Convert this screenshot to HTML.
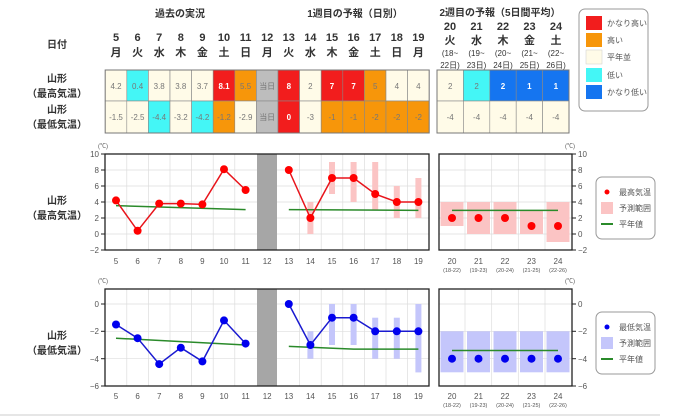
<!DOCTYPE html>
<html><head><meta charset="utf-8"><style>
body{margin:0;background:#fff}
svg{display:block;font-family:"Liberation Sans","Noto Sans CJK JP",sans-serif}
.h{font-size:10px;font-weight:bold;fill:#333}
.d{font-size:11px;font-weight:bold;fill:#333}
.s{font-size:8px;fill:#333}
.c{font-size:8px;fill:#777}
.w{font-size:8px;fill:#fff;font-weight:bold}
.t{font-size:8px;fill:#555}
.l{font-size:8px;fill:#555}
</style></head><body>
<svg width="680" height="417" viewBox="0 0 680 417" xmlns="http://www.w3.org/2000/svg">
<!-- headers -->
<text class="h" x="180" y="17" text-anchor="middle">過去の実況</text>
<text class="h" x="355" y="17" text-anchor="middle">1週目の予報（日別）</text>
<text class="h" x="500" y="16" text-anchor="middle">2週目の予報（5日間平均）</text>
<text class="h" x="57" y="48" text-anchor="middle">日付</text>
<text class="h" x="57" y="82" text-anchor="middle">山形</text>
<text class="h" x="57" y="97" text-anchor="middle">（最高気温）</text>
<text class="h" x="57" y="113" text-anchor="middle">山形</text>
<text class="h" x="57" y="128" text-anchor="middle">（最低気温）</text>
<g class="d" text-anchor="middle">
<text x="116" y="41">5</text><text x="137.6" y="41">6</text><text x="159.2" y="41">7</text><text x="180.8" y="41">8</text><text x="202.4" y="41">9</text><text x="224" y="41">10</text><text x="245.6" y="41">11</text><text x="267.2" y="41">12</text><text x="288.8" y="41">13</text><text x="310.4" y="41">14</text><text x="332" y="41">15</text><text x="353.6" y="41">16</text><text x="375.2" y="41">17</text><text x="396.8" y="41">18</text><text x="418.4" y="41">19</text>
<text x="116" y="56">月</text><text x="137.6" y="56">火</text><text x="159.2" y="56">水</text><text x="180.8" y="56">木</text><text x="202.4" y="56">金</text><text x="224" y="56">土</text><text x="245.6" y="56">日</text><text x="267.2" y="56">月</text><text x="288.8" y="56">火</text><text x="310.4" y="56">水</text><text x="332" y="56">木</text><text x="353.6" y="56">金</text><text x="375.2" y="56">土</text><text x="396.8" y="56">日</text><text x="418.4" y="56">月</text>
<text x="450" y="30">20</text><text x="476.5" y="30">21</text><text x="503" y="30">22</text><text x="529.5" y="30">23</text><text x="556" y="30">24</text>
<text x="450" y="44">火</text><text x="476.5" y="44">水</text><text x="503" y="44">木</text><text x="529.5" y="44">金</text><text x="556" y="44">土</text>
</g>
<g class="s" text-anchor="middle">
<text x="450" y="56">(18~</text><text x="476.5" y="56">(19~</text><text x="503" y="56">(20~</text><text x="529.5" y="56">(21~</text><text x="556" y="56">(22~</text>
<text x="450" y="68">22日)</text><text x="476.5" y="68">23日)</text><text x="503" y="68">24日)</text><text x="529.5" y="68">25日)</text><text x="556" y="68">26日)</text>
</g>
<!-- table week1 -->
<g stroke="#888" stroke-width="0.6">
<rect x="105.2" y="70" width="21.6" height="31" fill="#fffbe8"/><rect x="126.8" y="70" width="21.6" height="31" fill="#44f6f6"/><rect x="148.4" y="70" width="21.6" height="31" fill="#fffbe8"/><rect x="170" y="70" width="21.6" height="31" fill="#fffbe8"/><rect x="191.6" y="70" width="21.6" height="31" fill="#fffbe8"/><rect x="213.2" y="70" width="21.6" height="31" fill="#f21d1d"/><rect x="234.8" y="70" width="21.6" height="31" fill="#f7960a"/><rect x="256.4" y="70" width="21.6" height="31" fill="#bdbdbd"/><rect x="278" y="70" width="21.6" height="31" fill="#f21d1d"/><rect x="299.6" y="70" width="21.6" height="31" fill="#fffbe8"/><rect x="321.2" y="70" width="21.6" height="31" fill="#f21d1d"/><rect x="342.8" y="70" width="21.6" height="31" fill="#f21d1d"/><rect x="364.4" y="70" width="21.6" height="31" fill="#f7960a"/><rect x="386" y="70" width="21.6" height="31" fill="#fffbe8"/><rect x="407.6" y="70" width="21.6" height="31" fill="#fffbe8"/>
<rect x="105.2" y="101" width="21.6" height="32" fill="#fffbe8"/><rect x="126.8" y="101" width="21.6" height="32" fill="#fffbe8"/><rect x="148.4" y="101" width="21.6" height="32" fill="#44f6f6"/><rect x="170" y="101" width="21.6" height="32" fill="#fffbe8"/><rect x="191.6" y="101" width="21.6" height="32" fill="#44f6f6"/><rect x="213.2" y="101" width="21.6" height="32" fill="#f7960a"/><rect x="234.8" y="101" width="21.6" height="32" fill="#fffbe8"/><rect x="256.4" y="101" width="21.6" height="32" fill="#bdbdbd"/><rect x="278" y="101" width="21.6" height="32" fill="#f21d1d"/><rect x="299.6" y="101" width="21.6" height="32" fill="#fffbe8"/><rect x="321.2" y="101" width="21.6" height="32" fill="#f7960a"/><rect x="342.8" y="101" width="21.6" height="32" fill="#f7960a"/><rect x="364.4" y="101" width="21.6" height="32" fill="#f7960a"/><rect x="386" y="101" width="21.6" height="32" fill="#f7960a"/><rect x="407.6" y="101" width="21.6" height="32" fill="#f7960a"/>
<rect x="437" y="70" width="26.4" height="31" fill="#fffbe8"/><rect x="463.4" y="70" width="26.4" height="31" fill="#44f6f6"/><rect x="489.8" y="70" width="26.4" height="31" fill="#1575f0"/><rect x="516.2" y="70" width="26.4" height="31" fill="#1575f0"/><rect x="542.6" y="70" width="26.4" height="31" fill="#1575f0"/>
<rect x="437" y="101" width="26.4" height="32" fill="#fffbe8"/><rect x="463.4" y="101" width="26.4" height="32" fill="#fffbe8"/><rect x="489.8" y="101" width="26.4" height="32" fill="#fffbe8"/><rect x="516.2" y="101" width="26.4" height="32" fill="#fffbe8"/><rect x="542.6" y="101" width="26.4" height="32" fill="#fffbe8"/>
</g>
<rect x="105.2" y="70" width="324" height="63" fill="none" stroke="#777" stroke-width="1"/>
<rect x="437" y="70" width="132" height="63" fill="none" stroke="#777" stroke-width="1"/>
<g text-anchor="middle">
<text class="c" x="116" y="89">4.2</text><text class="c" x="137.6" y="89">0.4</text><text class="c" x="159.2" y="89">3.8</text><text class="c" x="180.8" y="89">3.8</text><text class="c" x="202.4" y="89">3.7</text><text class="w" x="224" y="89">8.1</text><text class="c" x="245.6" y="89">5.5</text><text class="c" x="267.2" y="89">当日</text><text class="w" x="288.8" y="89">8</text><text class="c" x="310.4" y="89">2</text><text class="w" x="332" y="89">7</text><text class="w" x="353.6" y="89">7</text><text class="c" x="375.2" y="89">5</text><text class="c" x="396.8" y="89">4</text><text class="c" x="418.4" y="89">4</text>
<text class="c" x="116" y="120">-1.5</text><text class="c" x="137.6" y="120">-2.5</text><text class="c" x="159.2" y="120">-4.4</text><text class="c" x="180.8" y="120">-3.2</text><text class="c" x="202.4" y="120">-4.2</text><text class="c" x="224" y="120">-1.2</text><text class="c" x="245.6" y="120">-2.9</text><text class="c" x="267.2" y="120">当日</text><text class="w" x="288.8" y="120">0</text><text class="c" x="310.4" y="120">-3</text><text class="c" x="332" y="120">-1</text><text class="c" x="353.6" y="120">-1</text><text class="c" x="375.2" y="120">-2</text><text class="c" x="396.8" y="120">-2</text><text class="c" x="418.4" y="120">-2</text>
<text class="c" x="450.2" y="89">2</text><text class="c" x="476.6" y="89">2</text><text class="w" x="503" y="89">2</text><text class="w" x="529.4" y="89">1</text><text class="w" x="555.8" y="89">1</text>
<text class="c" x="450.2" y="120">-4</text><text class="c" x="476.6" y="120">-4</text><text class="c" x="503" y="120">-4</text><text class="c" x="529.4" y="120">-4</text><text class="c" x="555.8" y="120">-4</text>
</g>
<!-- top legend -->
<rect x="579" y="9" width="69" height="102" rx="6" fill="#fff" stroke="#999"/>
<rect x="586" y="16" width="16" height="14" fill="#f21d1d"/><text class="l" x="607" y="26">かなり高い</text>
<rect x="586" y="33" width="16" height="14" fill="#f7960a"/><text class="l" x="607" y="43">高い</text>
<rect x="586" y="50" width="16" height="14" fill="#fffbe8" stroke="#ccc" stroke-width="0.5"/><text class="l" x="607" y="60">平年並</text>
<rect x="586" y="68" width="16" height="14" fill="#44f6f6"/><text class="l" x="607" y="78">低い</text>
<rect x="586" y="85" width="16" height="14" fill="#1575f0"/><text class="l" x="607" y="95">かなり低い</text>

<!-- ===== top chart ===== -->
<text class="h" x="57" y="204" text-anchor="middle">山形</text>
<text class="h" x="57" y="219" text-anchor="middle">（最高気温）</text>
<g stroke="#ddd" stroke-width="0.7">
<line x1="105" y1="170" x2="429" y2="170"/><line x1="105" y1="186" x2="429" y2="186"/><line x1="105" y1="202" x2="429" y2="202"/><line x1="105" y1="218" x2="429" y2="218"/><line x1="105" y1="234" x2="429" y2="234"/>
<line x1="439" y1="170" x2="572" y2="170"/><line x1="439" y1="186" x2="572" y2="186"/><line x1="439" y1="202" x2="572" y2="202"/><line x1="439" y1="218" x2="572" y2="218"/><line x1="439" y1="234" x2="572" y2="234"/>
<line x1="126.8" y1="154" x2="126.8" y2="250"/><line x1="148.4" y1="154" x2="148.4" y2="250"/><line x1="170" y1="154" x2="170" y2="250"/><line x1="191.6" y1="154" x2="191.6" y2="250"/><line x1="213.2" y1="154" x2="213.2" y2="250"/><line x1="234.8" y1="154" x2="234.8" y2="250"/><line x1="299.6" y1="154" x2="299.6" y2="250"/><line x1="321.2" y1="154" x2="321.2" y2="250"/><line x1="342.8" y1="154" x2="342.8" y2="250"/><line x1="364.4" y1="154" x2="364.4" y2="250"/><line x1="386" y1="154" x2="386" y2="250"/><line x1="407.6" y1="154" x2="407.6" y2="250"/>
<line x1="465" y1="154" x2="465" y2="250"/><line x1="491.7" y1="154" x2="491.7" y2="250"/><line x1="518.3" y1="154" x2="518.3" y2="250"/><line x1="545" y1="154" x2="545" y2="250"/>
</g>
<rect x="257" y="154" width="20" height="96" fill="#a6a6a6"/>
<g fill="#fbc4c4">
<rect x="307.4" y="202" width="6" height="32"/><rect x="329" y="162" width="6" height="32"/><rect x="350.6" y="162" width="6" height="40"/><rect x="372.2" y="162" width="6" height="48"/><rect x="393.8" y="186" width="6" height="32"/><rect x="415.4" y="178" width="6" height="40"/>
<rect x="440.5" y="202" width="23" height="24"/><rect x="467" y="202" width="23" height="32"/><rect x="493.5" y="202" width="23" height="32"/><rect x="520" y="210" width="23" height="24"/><rect x="546.5" y="202" width="23" height="40"/>
</g>
<g stroke="#2a8a2a" stroke-width="1.5" fill="none">
<line x1="116" y1="205.6" x2="245.6" y2="209.6"/><line x1="288.8" y1="209.6" x2="418.4" y2="210.4"/><line x1="452" y1="210.4" x2="558" y2="210.4"/>
</g>
<g stroke="#e8141b" stroke-width="1.5" fill="none">
<polyline points="116,200.4 137.6,230.8 159.2,203.6 180.8,203.6 202.4,204.4 224,169.2 245.6,190"/>
<polyline points="288.8,170 310.4,218 332,178 353.6,178 375.2,194 396.8,202 418.4,202"/>
</g>
<g fill="#f00">
<circle cx="116" cy="200.4" r="4"/><circle cx="137.6" cy="230.8" r="4"/><circle cx="159.2" cy="203.6" r="4"/><circle cx="180.8" cy="203.6" r="4"/><circle cx="202.4" cy="204.4" r="4"/><circle cx="224" cy="169.2" r="4"/><circle cx="245.6" cy="190" r="4"/>
<circle cx="288.8" cy="170" r="4"/><circle cx="310.4" cy="218" r="4"/><circle cx="332" cy="178" r="4"/><circle cx="353.6" cy="178" r="4"/><circle cx="375.2" cy="194" r="4"/><circle cx="396.8" cy="202" r="4"/><circle cx="418.4" cy="202" r="4"/>
<circle cx="452" cy="218" r="4"/><circle cx="478.5" cy="218" r="4"/><circle cx="505" cy="218" r="4"/><circle cx="531.5" cy="226" r="4"/><circle cx="558" cy="226" r="4"/>
</g>
<g fill="none" stroke="#222" stroke-width="1.3">
<rect x="105" y="154" width="324" height="96"/><rect x="439" y="154" width="133" height="96"/>
</g>
<g stroke="#222" stroke-width="1">
<line x1="101" y1="154" x2="105" y2="154"/><line x1="101" y1="170" x2="105" y2="170"/><line x1="101" y1="186" x2="105" y2="186"/><line x1="101" y1="202" x2="105" y2="202"/><line x1="101" y1="218" x2="105" y2="218"/><line x1="101" y1="234" x2="105" y2="234"/><line x1="101" y1="250" x2="105" y2="250"/>
<line x1="572" y1="154" x2="576" y2="154"/><line x1="572" y1="170" x2="576" y2="170"/><line x1="572" y1="186" x2="576" y2="186"/><line x1="572" y1="202" x2="576" y2="202"/><line x1="572" y1="218" x2="576" y2="218"/><line x1="572" y1="234" x2="576" y2="234"/><line x1="572" y1="250" x2="576" y2="250"/>
</g>
<g class="t" text-anchor="end">
<text x="99" y="157">10</text><text x="99" y="173">8</text><text x="99" y="189">6</text><text x="99" y="205">4</text><text x="99" y="221">2</text><text x="99" y="237">0</text><text x="99" y="253">−2</text>
</g>
<g class="t">
<text x="578" y="157">10</text><text x="578" y="173">8</text><text x="578" y="189">6</text><text x="578" y="205">4</text><text x="578" y="221">2</text><text x="578" y="237">0</text><text x="578" y="253">−2</text>
<text x="98" y="148" font-size="6">(℃)</text><text x="565" y="148" font-size="6">(℃)</text>
</g>
<g class="t" text-anchor="middle">
<text x="116" y="264">5</text><text x="137.6" y="264">6</text><text x="159.2" y="264">7</text><text x="180.8" y="264">8</text><text x="202.4" y="264">9</text><text x="224" y="264">10</text><text x="245.6" y="264">11</text><text x="267.2" y="264">12</text><text x="288.8" y="264">13</text><text x="310.4" y="264">14</text><text x="332" y="264">15</text><text x="353.6" y="264">16</text><text x="375.2" y="264">17</text><text x="396.8" y="264">18</text><text x="418.4" y="264">19</text>
<text x="452" y="264">20</text><text x="478.5" y="264">21</text><text x="505" y="264">22</text><text x="531.5" y="264">23</text><text x="558" y="264">24</text>
<text x="452" y="272" font-size="5.5">(18-22)</text><text x="478.5" y="272" font-size="5.5">(19-23)</text><text x="505" y="272" font-size="5.5">(20-24)</text><text x="531.5" y="272" font-size="5.5">(21-25)</text><text x="558" y="272" font-size="5.5">(22-26)</text>
</g>
<rect x="596" y="177" width="59" height="62" rx="6" fill="#fff" stroke="#999"/>
<circle cx="607" cy="192" r="2.5" fill="#f00"/><text class="l" x="619" y="195" font-size="7">最高気温</text>
<rect x="601" y="202" width="12" height="12" fill="#fbc4c4"/><text class="l" x="619" y="211" font-size="7">予測範囲</text>
<line x1="601" y1="224" x2="613" y2="224" stroke="#2a8a2a" stroke-width="2"/><text class="l" x="619" y="227" font-size="7">平年値</text>

<!-- ===== bottom chart ===== -->
<text class="h" x="57" y="339" text-anchor="middle">山形</text>
<text class="h" x="57" y="354" text-anchor="middle">（最低気温）</text>
<g stroke="#ddd" stroke-width="0.7">
<line x1="105" y1="304" x2="429" y2="304"/><line x1="105" y1="331.3" x2="429" y2="331.3"/><line x1="105" y1="358.7" x2="429" y2="358.7"/>
<line x1="439" y1="304" x2="572" y2="304"/><line x1="439" y1="331.3" x2="572" y2="331.3"/><line x1="439" y1="358.7" x2="572" y2="358.7"/>
<line x1="126.8" y1="289" x2="126.8" y2="386"/><line x1="148.4" y1="289" x2="148.4" y2="386"/><line x1="170" y1="289" x2="170" y2="386"/><line x1="191.6" y1="289" x2="191.6" y2="386"/><line x1="213.2" y1="289" x2="213.2" y2="386"/><line x1="234.8" y1="289" x2="234.8" y2="386"/><line x1="299.6" y1="289" x2="299.6" y2="386"/><line x1="321.2" y1="289" x2="321.2" y2="386"/><line x1="342.8" y1="289" x2="342.8" y2="386"/><line x1="364.4" y1="289" x2="364.4" y2="386"/><line x1="386" y1="289" x2="386" y2="386"/><line x1="407.6" y1="289" x2="407.6" y2="386"/>
<line x1="465" y1="289" x2="465" y2="386"/><line x1="491.7" y1="289" x2="491.7" y2="386"/><line x1="518.3" y1="289" x2="518.3" y2="386"/><line x1="545" y1="289" x2="545" y2="386"/>
</g>
<rect x="257" y="289" width="20" height="97" fill="#a6a6a6"/>
<g fill="#c4c6fb">
<rect x="307.4" y="331.3" width="6" height="27.4"/><rect x="329" y="304" width="6" height="41"/><rect x="350.6" y="304" width="6" height="41"/><rect x="372.2" y="317.7" width="6" height="41"/><rect x="393.8" y="317.7" width="6" height="41"/><rect x="415.4" y="304" width="6" height="68.4"/>
<rect x="440.5" y="331.3" width="23" height="41"/><rect x="467" y="331.3" width="23" height="41"/><rect x="493.5" y="331.3" width="23" height="41"/><rect x="520" y="331.3" width="23" height="41"/><rect x="546.5" y="331.3" width="23" height="41"/>
</g>
<g stroke="#2a8a2a" stroke-width="1.5" fill="none">
<line x1="116" y1="338.2" x2="245.6" y2="345"/><polyline points="288.8,346.4 353.6,349.1 418.4,349.1"/><line x1="452" y1="350.5" x2="558" y2="350.5"/>
</g>
<g stroke="#1a1ad0" stroke-width="1.5" fill="none">
<polyline points="116,324.5 137.6,338.2 159.2,364.1 180.8,347.7 202.4,361.4 224,320.4 245.6,343.6"/>
<polyline points="288.8,304 310.4,345 332,317.7 353.6,317.7 375.2,331.3 396.8,331.3 418.4,331.3"/>
</g>
<g fill="#0000ee">
<circle cx="116" cy="324.5" r="4"/><circle cx="137.6" cy="338.2" r="4"/><circle cx="159.2" cy="364.1" r="4"/><circle cx="180.8" cy="347.7" r="4"/><circle cx="202.4" cy="361.4" r="4"/><circle cx="224" cy="320.4" r="4"/><circle cx="245.6" cy="343.6" r="4"/>
<circle cx="288.8" cy="304" r="4"/><circle cx="310.4" cy="345" r="4"/><circle cx="332" cy="317.7" r="4"/><circle cx="353.6" cy="317.7" r="4"/><circle cx="375.2" cy="331.3" r="4"/><circle cx="396.8" cy="331.3" r="4"/><circle cx="418.4" cy="331.3" r="4"/>
<circle cx="452" cy="358.7" r="4"/><circle cx="478.5" cy="358.7" r="4"/><circle cx="505" cy="358.7" r="4"/><circle cx="531.5" cy="358.7" r="4"/><circle cx="558" cy="358.7" r="4"/>
</g>
<g fill="none" stroke="#222" stroke-width="1.3">
<rect x="105" y="289" width="324" height="97"/><rect x="439" y="289" width="133" height="97"/>
</g>
<g stroke="#222" stroke-width="1">
<line x1="101" y1="304" x2="105" y2="304"/><line x1="101" y1="331.3" x2="105" y2="331.3"/><line x1="101" y1="358.7" x2="105" y2="358.7"/><line x1="101" y1="386" x2="105" y2="386"/>
<line x1="572" y1="304" x2="576" y2="304"/><line x1="572" y1="331.3" x2="576" y2="331.3"/><line x1="572" y1="358.7" x2="576" y2="358.7"/><line x1="572" y1="386" x2="576" y2="386"/>
</g>
<g class="t" text-anchor="end">
<text x="99" y="307">0</text><text x="99" y="334">−2</text><text x="99" y="362">−4</text><text x="99" y="389">−6</text>
</g>
<g class="t">
<text x="578" y="307">0</text><text x="578" y="334">−2</text><text x="578" y="362">−4</text><text x="578" y="389">−6</text>
<text x="98" y="283" font-size="6">(℃)</text><text x="565" y="283" font-size="6">(℃)</text>
</g>
<g class="t" text-anchor="middle">
<text x="116" y="399">5</text><text x="137.6" y="399">6</text><text x="159.2" y="399">7</text><text x="180.8" y="399">8</text><text x="202.4" y="399">9</text><text x="224" y="399">10</text><text x="245.6" y="399">11</text><text x="267.2" y="399">12</text><text x="288.8" y="399">13</text><text x="310.4" y="399">14</text><text x="332" y="399">15</text><text x="353.6" y="399">16</text><text x="375.2" y="399">17</text><text x="396.8" y="399">18</text><text x="418.4" y="399">19</text>
<text x="452" y="399">20</text><text x="478.5" y="399">21</text><text x="505" y="399">22</text><text x="531.5" y="399">23</text><text x="558" y="399">24</text>
<text x="452" y="407" font-size="5.5">(18-22)</text><text x="478.5" y="407" font-size="5.5">(19-23)</text><text x="505" y="407" font-size="5.5">(20-24)</text><text x="531.5" y="407" font-size="5.5">(21-25)</text><text x="558" y="407" font-size="5.5">(22-26)</text>
</g>
<rect x="596" y="312" width="59" height="62" rx="6" fill="#fff" stroke="#999"/>
<circle cx="607" cy="327" r="2.5" fill="#0000ee"/><text class="l" x="619" y="330" font-size="7">最低気温</text>
<rect x="601" y="337" width="12" height="12" fill="#c4c6fb"/><text class="l" x="619" y="346" font-size="7">予測範囲</text>
<line x1="601" y1="359" x2="613" y2="359" stroke="#2a8a2a" stroke-width="2"/><text class="l" x="619" y="362" font-size="7">平年値</text>

<line x1="0" y1="415" x2="660" y2="415" stroke="#ccc" stroke-width="1"/>
</svg>
</body></html>
